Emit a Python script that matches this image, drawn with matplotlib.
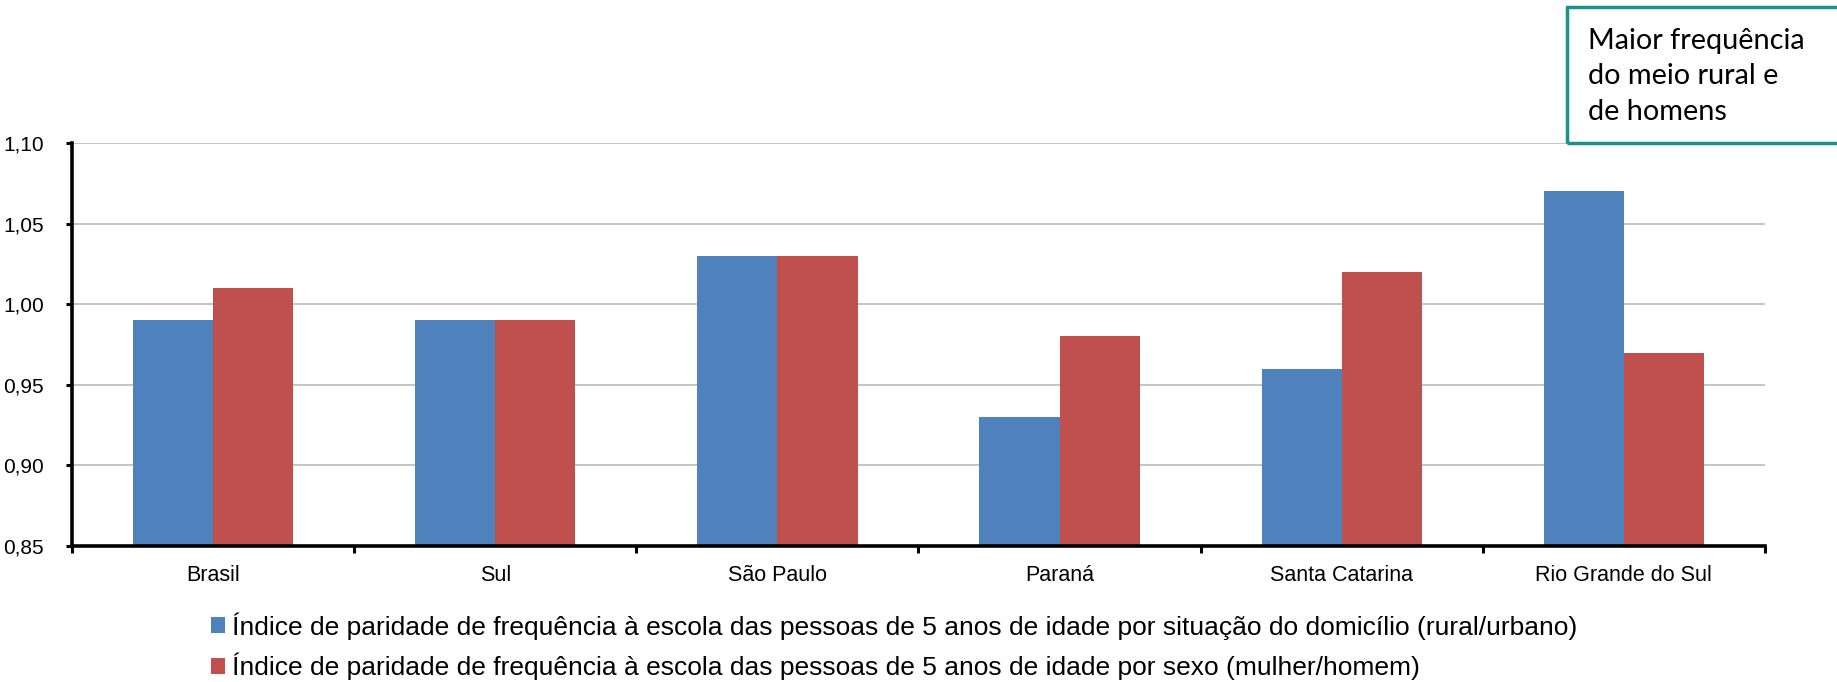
import matplotlib
matplotlib.use("Agg")

import matplotlib.pyplot as plt
import numpy as np
from matplotlib.patches import Rectangle
from matplotlib.ticker import FuncFormatter

# dados
categorias = ["Brasil", "Sul", "São Paulo", "Paraná", "Santa Catarina", "Rio Grande do Sul"]
rural_urbano = [0.99, 0.99, 1.03, 0.93, 0.96, 1.07]
mulher_homem = [1.01, 0.99, 1.03, 0.98, 1.02, 0.97]
serie_nomes = [
	"Índice de paridade de frequência à escola das pessoas de 5 anos de idade por situação do domicílio (rural/urbano)",
	"Índice de paridade de frequência à escola das pessoas de 5 anos de idade por sexo (mulher/homem)",
]
nota = "Maior frequência\ndo meio rural e\nde homens"

AZUL = "#4f81bd"
VERMELHO = "#c0504d"

plt.rcParams["font.family"] = ["Liberation Sans", "DejaVu Sans"]

W, H = 1837, 682
fig = plt.figure(figsize=(W / 100, H / 100), dpi=100)
ax = fig.add_axes([72 / W, 1 - 546 / H, (1765 - 72) / W, (546 - 143) / H])

x = np.arange(len(categorias))
larg = 0.284
b1 = ax.bar(x - larg / 2, rural_urbano, larg, color=AZUL, label=serie_nomes[0], zorder=2)
b2 = ax.bar(x + larg / 2, mulher_homem, larg, color=VERMELHO, label=serie_nomes[1], zorder=2)

ax.set_ylim(0.85, 1.10)
ax.set_xlim(-0.5, len(categorias) - 0.5)
ax.set_yticks(np.arange(0.85, 1.101, 0.05))
ax.yaxis.set_major_formatter(FuncFormatter(lambda v, p: ("%.2f" % v).replace(".", ",")))
ax.yaxis.grid(True, color="#c0c0c0", linewidth=1.3, zorder=0)
ax.set_axisbelow(True)

# categorias no meio, marcas nas divisas
ax.set_xticks(np.arange(-0.5, len(categorias), 1.0))
ax.set_xticklabels([])
ax.set_xticks(x, minor=True)
ax.set_xticklabels(categorias, minor=True, fontsize=15.5)
ax.tick_params(axis="x", which="minor", length=0, pad=14)
ax.tick_params(axis="x", which="major", length=5, width=2.2, direction="out")
ax.tick_params(axis="y", length=4, width=2.2, direction="out", labelsize=15, pad=16)

for s in ["top", "right"]:
	ax.spines[s].set_visible(False)
for s in ["left", "bottom"]:
	ax.spines[s].set_linewidth(2.6)

leg = fig.legend(handles=[b1, b2], loc="upper left", bbox_to_anchor=(211 / W, 1 - 612 / H),
	frameon=False, fontsize=19, handlelength=0.53, handleheight=0.53,
	handletextpad=0.28, labelspacing=0.5, borderpad=0, borderaxespad=0)

# caixa de nota
fig.patches.append(Rectangle((1567 / W, 1 - 143 / H), (1845 - 1567) / W, (143 - 7) / H,
	transform=fig.transFigure, fill=False, edgecolor="#1a948a", linewidth=2.5, clip_on=False))
fig.text(1588 / W, 1 - 28 / H, nota, fontsize=20.8, family=["Lato", "DejaVu Sans"],
	va="top", ha="left", linespacing=1.45)

plt.savefig("out.png", dpi=100)
